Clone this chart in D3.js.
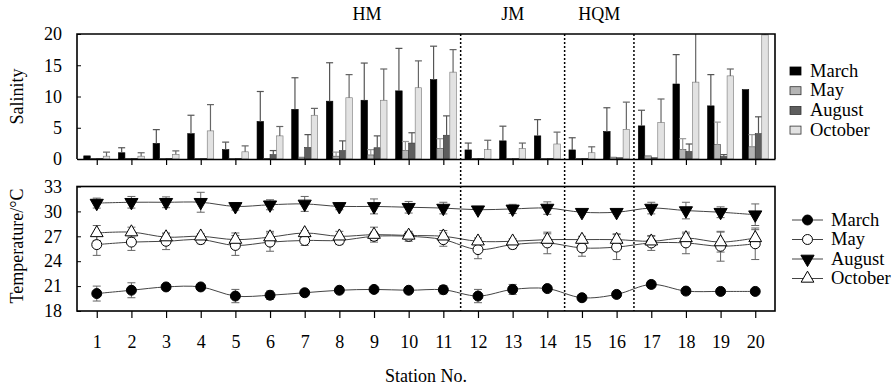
<!DOCTYPE html>
<html>
<head>
<meta charset="utf-8">
<script src="https://cdn.jsdelivr.net/npm/d3@7"></script>
<style>
  body { margin: 0; background: #fff; }
</style>
</head>
<body>
<div class="wrapper"></div>
<script>
var chartwidth = 892
var chartheight = 389
var serif = '"Liberation Serif"'

var stations = [1,2,3,4,5,6,7,8,9,10,11,12,13,14,15,16,17,18,19,20]
var months = ['March','May','August','October']

// salinity (bar height and error above the bar)
var salMarch    = [0.5,1.0,2.5,4.05,1.5,6.0,7.95,9.25,9.4,10.9,12.7,1.45,2.9,3.7,1.45,4.4,5.3,12.0,8.5,11.1]
var salMarchErr = [0,0.8,2.2,2.95,1.2,4.8,5.05,6.15,5.95,6.8,5.35,1.1,2.35,2.6,1.95,3.8,2.5,4.7,5.0,0]
var salMay      = [0.05,0.1,0.05,0.1,0.05,0.1,0.3,0.45,0.65,1.35,1.7,0.05,0.05,0.1,0.05,0.3,0.5,1.5,2.3,1.95]
var salMayErr   = [0,0,0,0,0,0,0,0.65,0.85,1.45,1.55,0,0,0,0,0,0,1.75,3.6,1.95]
var salAug      = [0.1,0.1,0.1,0.1,0.1,0.7,1.85,1.35,1.8,2.55,3.8,0.05,0.05,0.1,0.05,0.2,0.2,1.2,0.4,4.05]
var salAugErr   = [0,0,0,0,0,0.65,2.05,1.55,1.9,1.65,3.1,0,0,0,0,0,0,1.2,0.3,2.7]
var salOct      = [0.45,0.45,0.75,4.5,1.15,3.7,7.0,9.8,9.4,11.4,13.9,1.5,1.7,2.4,1.0,4.75,5.85,12.3,13.3,19.85]
var salOctErr   = [0.65,0.55,0.55,4.2,0.95,1.5,1.1,3.7,5.0,4.3,3.6,1.5,0.85,1.9,0.95,4.35,3.75,8,1.1,0.15]

// temperature (mean and sd)
var tMarch    = [20.1,20.5,20.9,20.9,19.8,19.9,20.2,20.5,20.6,20.5,20.56,19.8,20.6,20.7,19.6,20.0,21.2,20.4,20.36,20.36]
var tMarchErr = [0.9,0.9,0.3,0.3,0.8,0.5,0.2,0.2,0.3,0.3,0.5,0.8,0.6,0.3,0.3,0.3,0.4,0.3,0.2,0.2]
var tMay      = [26.0,26.3,26.4,26.6,25.9,26.3,26.5,26.5,27.0,27.0,26.6,25.4,26.0,26.2,25.6,25.7,26.2,26.2,25.8,26.1]
var tMayErr   = [1.3,1.0,1.0,0.5,1.2,1.1,0.6,0.5,0.5,0.6,0.8,1.1,0.5,1.3,1.0,1.5,0.9,1.3,1.8,1.9]
var tAug      = [31.0,31.1,31.1,31.1,30.6,30.8,30.9,30.6,30.6,30.5,30.4,30.2,30.3,30.4,29.9,29.9,30.4,30.1,29.9,29.6]
var tAugErr   = [0.6,0.7,0.65,1.2,0.45,0.6,0.9,0.4,0.9,0.7,0.7,0.1,0.55,0.75,0.2,0.2,0.7,1.0,0.65,1.3]
var tOct      = [27.4,27.5,26.9,27.0,26.6,26.9,27.4,27.0,27.2,27.1,27.0,26.4,26.4,26.6,26.6,26.6,26.4,26.8,26.3,26.8]
var tOctErr   = [0.9,0.6,0.4,0.3,0.8,0.7,0.3,0.6,0.9,0.3,0.7,0.4,0.3,0.7,0.4,0.7,0.6,0.5,1.2,1.0]

var salTicks = [0,5,10,15,20]
var tempTicks = [18,21,24,27,30,33]
var dividers = [11.5,14.5,16.5]
var regions = [{name:'HM', pos:8.8},{name:'JM', pos:13},{name:'HQM', pos:15.5}]

var salSeries = [
  {name:'March', values:salMarch, err:salMarchErr, fill:'#000', stroke:'#000', errColor:'#555'},
  {name:'May', values:salMay, err:salMayErr, fill:'#b4b4b4', stroke:'#444', errColor:'#999'},
  {name:'August', values:salAug, err:salAugErr, fill:'#5e5e5e', stroke:'#333', errColor:'#555'},
  {name:'October', values:salOct, err:salOctErr, fill:'#e2e2e2', stroke:'#777', errColor:'#666'}
]
var tempSeries = [
  {name:'March', values:tMarch, err:tMarchErr, shape:'circle', fill:'#000'},
  {name:'May', values:tMay, err:tMayErr, shape:'circle', fill:'#fff'},
  {name:'August', values:tAug, err:tAugErr, shape:'down', fill:'#000'},
  {name:'October', values:tOct, err:tOctErr, shape:'up', fill:'#fff'}
]

var left = 77, right = 775
var x = d3.scaleLinear().domain([0.43, 20.57]).range([left, right])
var yS = d3.scaleLinear().domain([0,20]).range([159, 34])
var yT = d3.scaleLinear().domain([18,33]).range([311, 186.5])

var step = x(2) - x(1)
var inner = d3.scaleBand().domain(months).range([-step*0.375, step*0.375])

var svg = d3.select('.wrapper').append('svg')
  .attr('width', chartwidth).attr('height', chartheight)

svg.append('clipPath').attr('id','clipTop')
  .append('rect').attr('x', left).attr('y', yS(20)).attr('width', right-left).attr('height', yS(0)-yS(20))

// ---------- salinity bars ----------
var barG = svg.append('g').attr('clip-path','url(#clipTop)')
salSeries.forEach(s => {
  var g = barG.append('g').attr('class','gv-' + s.name)
  g.selectAll('rect')
    .data(stations)
    .enter().append('rect')
    .attr('x', (d,i) => x(d) + inner(s.name))
    .attr('width', inner.bandwidth())
    .attr('y', (d,i) => yS(s.values[i]))
    .attr('height', (d,i) => yS(0) - yS(s.values[i]))
    .attr('fill', s.fill)
    .attr('stroke', s.stroke)
    .attr('stroke-width', 0.6)

  var eb = g.selectAll('.eb')
    .data(stations.filter((d,i) => s.err[i] > 0))
    .enter().append('g')
  eb.append('line')
    .attr('x1', d => x(d) + inner(s.name) + inner.bandwidth()/2)
    .attr('x2', d => x(d) + inner(s.name) + inner.bandwidth()/2)
    .attr('y1', d => yS(s.values[d-1]))
    .attr('y2', d => yS(s.values[d-1] + s.err[d-1]))
    .attr('stroke', s.errColor).attr('stroke-width', 1.2)
  eb.append('line')
    .attr('x1', d => x(d) + inner(s.name) + inner.bandwidth()/2 - 3.5)
    .attr('x2', d => x(d) + inner(s.name) + inner.bandwidth()/2 + 3.5)
    .attr('y1', d => yS(s.values[d-1] + s.err[d-1]))
    .attr('y2', d => yS(s.values[d-1] + s.err[d-1]))
    .attr('stroke', s.errColor).attr('stroke-width', 1.2)
})

// salinity frame and axes
svg.append('path')
  .attr('d', `M${left},${yS(0)}V${yS(20)}H${right}V${yS(0)}`)
  .attr('fill','none').attr('stroke','#000').attr('stroke-width',1.6)

var ySAxis = svg.append('g').attr('transform', `translate(${left},0)`)
  .call(d3.axisLeft(yS).tickValues(salTicks).tickSizeInner(-4).tickSizeOuter(0).tickPadding(15))
ySAxis.select('.domain').remove()
ySAxis.selectAll('text').style('font-family', serif).style('font-size','18px')

var xSAxis = svg.append('g').attr('transform', `translate(0,${yS(0)})`)
  .call(d3.axisBottom(x).tickValues(stations).tickSize(6).tickSizeOuter(0).tickFormat(''))
xSAxis.select('.domain').attr('stroke-width',1.6)
xSAxis.selectAll('.tick line').attr('stroke-width',1.2)

// ---------- temperature lines ----------
var line = d3.line()
  .x((d,i) => x(stations[i]))
  .y(d => yT(d))
  .curve(d3.curveCatmullRom.alpha(0.5))

tempSeries.forEach(s => {
  svg.append('path')
    .datum(s.values)
    .attr('d', line)
    .attr('fill','none')
    .attr('stroke','#444')
    .attr('stroke-width',1)
})

tempSeries.forEach(s => {
  var g = svg.append('g')
  var eb = g.selectAll('.eb').data(stations).enter().append('g')
  eb.append('line')
    .attr('x1', d => x(d)).attr('x2', d => x(d))
    .attr('y1', d => yT(s.values[d-1] - s.err[d-1]))
    .attr('y2', d => yT(s.values[d-1] + s.err[d-1]))
    .attr('stroke','#666').attr('stroke-width',1)
  eb.selectAll('.cap').data(d => [[d, s.values[d-1] - s.err[d-1]], [d, s.values[d-1] + s.err[d-1]]])
    .enter().append('line')
    .attr('x1', d => x(d[0]) - 4).attr('x2', d => x(d[0]) + 4)
    .attr('y1', d => yT(d[1])).attr('y2', d => yT(d[1]))
    .attr('stroke','#666').attr('stroke-width',1)
})

var triUp = d3.symbol().type(d3.symbolTriangle).size(70)()
var triDown = d3.symbol().type(d3.symbolTriangle).size(75)()
var circ = d3.symbol().type(d3.symbolCircle).size(78)()

function drawMarker(sel, s, px, py) {
  sel.attr('d', s.shape === 'circle' ? circ : (s.shape === 'up' ? triUp : triDown))
    .attr('transform', (d,i) => {
      var t = `translate(${px(d,i)},${py(d,i)})`
      return s.shape === 'down' ? t + ' rotate(180)' : t
    })
    .attr('fill', s.fill).attr('stroke','#000').attr('stroke-width',1)
}

tempSeries.forEach(s => {
  var m = svg.append('g').selectAll('path')
    .data(s.values)
    .enter().append('path')
  drawMarker(m, s, (d,i) => x(stations[i]), d => yT(d))
})

// temperature frame and axes
svg.append('rect')
  .attr('x', left).attr('y', yT(33)).attr('width', right-left).attr('height', yT(18)-yT(33))
  .attr('fill','none').attr('stroke','#000').attr('stroke-width',1.6)

var yTAxis = svg.append('g').attr('transform', `translate(${left},0)`)
  .call(d3.axisLeft(yT).tickValues(tempTicks).tickSizeInner(-4).tickSizeOuter(0).tickPadding(15))
yTAxis.select('.domain').remove()
yTAxis.selectAll('text').style('font-family', serif).style('font-size','18px')

var xTAxis = svg.append('g').attr('transform', `translate(0,${yT(18)})`)
  .call(d3.axisBottom(x).tickValues(stations).tickSize(7).tickSizeOuter(0).tickPadding(17))
xTAxis.select('.domain').remove()
xTAxis.selectAll('.tick line').attr('stroke-width',1.2)
xTAxis.selectAll('text').style('font-family', serif).style('font-size','18px')

// dividers
svg.selectAll('.divider')
  .data(dividers)
  .enter().append('line')
  .attr('x1', d => x(d)).attr('x2', d => x(d))
  .attr('y1', yS(20)).attr('y2', yT(18))
  .attr('stroke','#000').attr('stroke-width',1.5).attr('stroke-dasharray','2,2')

// region labels
svg.selectAll('.region')
  .data(regions)
  .enter().append('text')
  .attr('x', d => x(d.pos)).attr('y', 20)
  .attr('text-anchor','middle')
  .style('font-family', serif).style('font-size','18px')
  .text(d => d.name)

// axis titles
svg.append('text')
  .attr('transform', `translate(23,${(yS(0)+yS(20))/2}) rotate(-90)`)
  .attr('text-anchor','middle')
  .style('font-family', serif).style('font-size','18px')
  .text('Salinity')
svg.append('text')
  .attr('transform', `translate(23,246) rotate(-90)`)
  .attr('text-anchor','middle')
  .style('font-family', serif).style('font-size','18px')
  .text('Temperature/°C')
svg.append('text')
  .attr('x', (left+right)/2).attr('y', 382)
  .attr('text-anchor','middle')
  .style('font-family', serif).style('font-size','18px')
  .text('Station No.')

// legends
var legTop = svg.append('g').attr('transform','translate(790,71)')
salSeries.forEach((s,i) => {
  var row = legTop.append('g').attr('transform', `translate(0,${i*19.7})`)
  row.append('rect').attr('x',0).attr('y',-4).attr('width',11).attr('height',8)
    .attr('fill', s.fill).attr('stroke', s.name === 'March' ? '#000' : '#333').attr('stroke-width',0.8)
  row.append('text').attr('x',20).attr('y',5.5)
    .style('font-family', serif).style('font-size','18.5px').text(s.name)
})

var legBot = svg.append('g').attr('transform','translate(792,220)')
tempSeries.forEach((s,i) => {
  var row = legBot.append('g').attr('transform', `translate(0,${i*19.5})`)
  row.append('line').attr('x1',0).attr('x2',31).attr('y1',0).attr('y2',0)
    .attr('stroke','#444').attr('stroke-width',1)
  var m = row.append('path').datum(0)
  drawMarker(m, s, () => 15.5, () => 0)
  row.append('text').attr('x',39).attr('y',5.5)
    .style('font-family', serif).style('font-size','18.5px').text(s.name)
})
</script>
</body>
</html>
